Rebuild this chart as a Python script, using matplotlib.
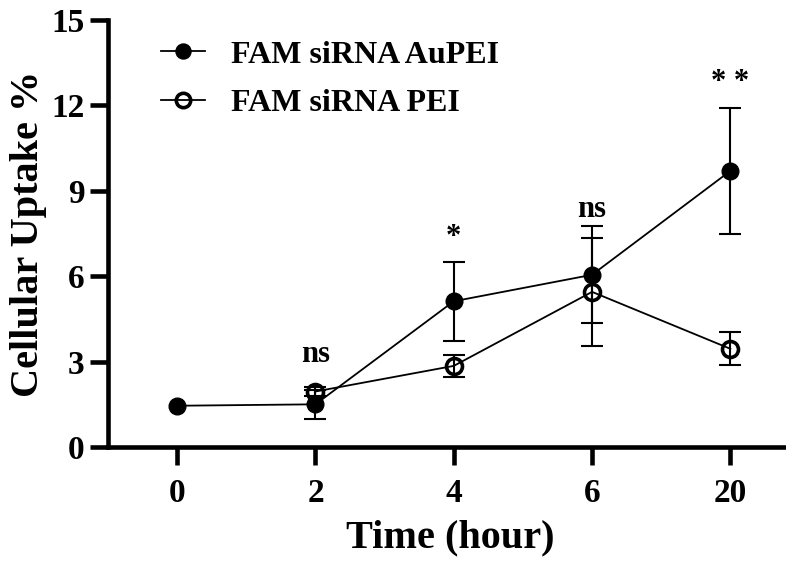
import numpy as np
import matplotlib.pyplot as plt

plt.rcParams['font.family'] = ['Liberation Serif', 'DejaVu Serif']
plt.rcParams['font.weight'] = 'bold'

# data
time_labels = ['0', '2', '4', '6', '20']
aupei_mean = [1.45, 1.50, 5.12, 6.05, 9.70]
aupei_err = [0.0, 0.50, 1.38, 1.70, 2.20]
pei_time_idx = [1, 2, 3, 4]
pei_mean = [1.95, 2.85, 5.45, 3.45]
pei_err = [0.15, 0.40, 1.90, 0.58]
sig_labels = ['ns', '*', 'ns', '* *']
sig_idx = [1, 2, 3, 4]
sig_y = [3.25, 7.35, 8.35, 12.8]

fig = plt.figure(figsize=(7.86, 5.72), dpi=100)
ax = fig.add_axes([0.1374, 0.2185, 0.871, 0.7465])

x = np.arange(len(time_labels))

# error bars first, then lines with markers on top
ax.errorbar(x[1:], aupei_mean[1:], yerr=aupei_err[1:], fmt='none',
            ecolor='black', elinewidth=1.5, capsize=8, capthick=1.5, zorder=2)
ax.errorbar(pei_time_idx, pei_mean, yerr=pei_err, fmt='none',
            ecolor='black', elinewidth=1.5, capsize=8, capthick=1.5, zorder=2)

ax.plot(x, aupei_mean, color='black', lw=1.3, marker='o', ms=12,
        markerfacecolor='black', markeredgecolor='black', label='FAM siRNA AuPEI', zorder=3)
ax.plot(pei_time_idx, pei_mean, color='black', lw=1.3, marker='o', ms=11.5,
        markerfacecolor='none', markeredgecolor='black', markeredgewidth=2.6,
        label='FAM siRNA PEI', zorder=3)

for xi, yi, s in zip(sig_idx, sig_y, sig_labels):
    ax.text(xi, yi, s, ha='center', va='center', fontsize=22, fontweight='bold')

ax.set_xlim(-0.5, 4.45)
ax.set_ylim(0, 15)
ax.set_xticks(x)
ax.set_xticklabels(time_labels)
ax.set_yticks([0, 3, 6, 9, 12, 15])

for side in ['top', 'right']:
    ax.spines[side].set_visible(False)
for side in ['left', 'bottom']:
    ax.spines[side].set_linewidth(3.3)

ax.tick_params(axis='both', which='major', length=13, width=3.3, labelsize=24)
ax.tick_params(axis='x', pad=9)
ax.tick_params(axis='y', pad=4)
for lab in ax.get_xticklabels() + ax.get_yticklabels():
    lab.set_fontweight('bold')

ax.set_xlabel('Time (hour)', fontsize=29, fontweight='bold', labelpad=8)
ax.set_ylabel('Cellular Uptake %', fontsize=29, fontweight='bold', labelpad=3)

ax.legend(loc='upper left', bbox_to_anchor=(0.035, 1.02), frameon=False,
          prop={'size': 23, 'weight': 'bold'}, handlelength=1.4,
          handletextpad=0.8, labelspacing=0.6, markerscale=0.9)

fig.savefig('out.png', dpi=100)
